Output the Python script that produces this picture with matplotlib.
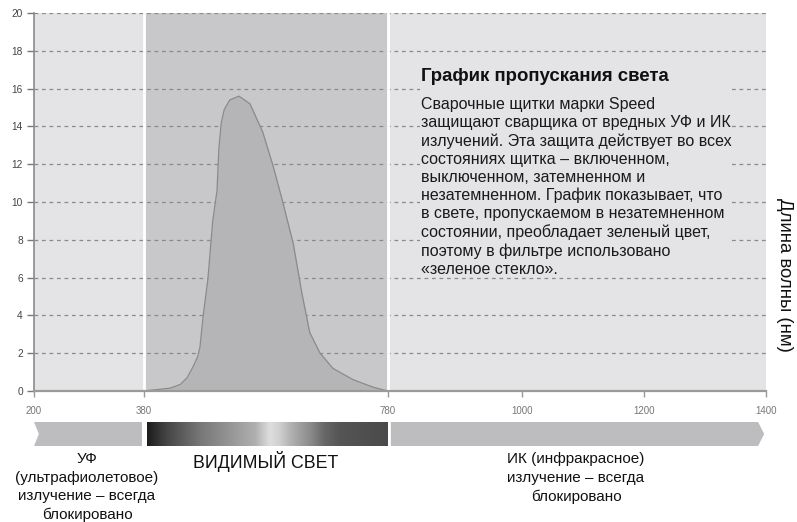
import matplotlib.pyplot as plt
import numpy as np
from matplotlib.colors import LinearSegmentedColormap
from matplotlib.patches import Polygon, Rectangle

plt.rcParams['font.family'] = ['Liberation Sans', 'DejaVu Sans']

# transmission curve
wavelength = [380, 423, 440, 451, 461, 468, 472, 477, 485, 493, 500, 503, 507, 512, 521, 536,
              554, 575, 592, 607, 625, 639, 652, 669, 690, 723, 756, 780]
transmission = [0, 0.15, 0.35, 0.7, 1.3, 1.8, 2.3, 3.9, 5.9, 9.0, 10.6, 12.8, 14.2, 14.9, 15.4, 15.6,
                15.2, 13.7, 11.9, 10.1, 7.8, 5.2, 3.1, 2.0, 1.2, 0.6, 0.2, 0]

x_ticks = [200, 380, 780, 1000, 1200, 1400]
y_ticks = [0, 2, 4, 6, 8, 10, 12, 14, 16, 18, 20]
uv_range = [200, 380]
visible_range = [380, 780]
ir_range = [780, 1400]

title = 'График пропускания света'
body = ('Сварочные щитки марки Speed\n'
        'защищают сварщика от вредных УФ и ИК\n'
        'излучений. Эта защита действует во всех\n'
        'состояниях щитка – включенном,\n'
        'выключенном, затемненном и\n'
        'незатемненном. График показывает, что\n'
        'в свете, пропускаемом в незатемненном\n'
        'состоянии, преобладает зеленый цвет,\n'
        'поэтому в фильтре использовано\n'
        '«зеленое стекло».')
uv_label = 'УФ\n(ультрафиолетовое)\nизлучение – всегда\nблокировано'
vis_label = 'ВИДИМЫЙ СВЕТ'
ir_label = 'ИК (инфракрасное)\nизлучение – всегда\nблокировано'
right_label = 'Длина волны (нм)'

W, H = 797, 522
fig = plt.figure(figsize=(W / 100, H / 100), dpi=100)


def fx(px):
    return px / W


def fy(py):
    return 1 - py / H


ax = fig.add_axes([fx(34), fy(391), fx(766 - 34), (391 - 13) / H])
ax.set_facecolor('#e4e4e6')
ax.set_xlim(x_ticks[0], x_ticks[-1])
ax.set_ylim(0, 20)
ax.axvspan(visible_range[0], visible_range[1], color='#c8c8ca', zorder=0.2, lw=0)
for xv in visible_range:
    ax.axvline(xv, color='white', lw=2, zorder=0.7)

ax.set_axisbelow(True)
ax.yaxis.grid(True, linestyle=(0, (3, 3)), color='#8a8a8a', lw=0.9)

ax.fill_between(wavelength, transmission, color='#b5b5b7', zorder=2, lw=0)
ax.plot(wavelength, transmission, color='#8a8a8a', lw=0.9, zorder=2.1)

# box behind the text that hides the grid
ax.add_patch(Rectangle((832, 7.0), 512, 10.0, facecolor='#e4e4e6', edgecolor='none', zorder=1.5))

for s in ['top', 'right']:
    ax.spines[s].set_visible(False)
ax.spines['left'].set_color('#8a8a8a')
ax.spines['left'].set_linewidth(1.2)
ax.spines['bottom'].set_color('#9a9a9a')
ax.spines['bottom'].set_linewidth(1.6)

ax.set_xticks(x_ticks)
ax.set_xticklabels([str(v) for v in x_ticks])
ax.set_yticks(y_ticks)
ax.set_yticklabels([str(v) for v in y_ticks])
ax.tick_params(axis='y', length=5, width=1, color='#777777', labelsize=7.3,
               labelcolor='#444444', pad=3)
ax.tick_params(axis='x', length=4.5, width=1, color='#999999', labelsize=7,
               labelcolor='#777777', pad=6)

fig.text(fx(421), fy(81), title, fontsize=13.4, fontweight='bold', color='#111111',
         va='baseline', ha='left')
fig.text(fx(421), fy(97), body, fontsize=11.5, color='#1a1a1a', va='top', ha='left',
         linespacing=1.25)

fig.text(fx(784), fy(275), right_label, rotation=270, fontsize=13.4, color='#111111',
         ha='center', va='center')

# spectrum band
bx = fig.add_axes([fx(34), fy(446), fx(732), 24 / H])
bx.set_xlim(x_ticks[0], x_ticks[-1])
bx.set_ylim(0, 1)
bx.axis('off')

bx.add_patch(Polygon([(uv_range[0], 0), (uv_range[1] - 3, 0), (uv_range[1] - 3, 1),
                      (uv_range[0], 1), (uv_range[0] + 8, 0.5)],
                     closed=True, facecolor='#bdbdbf', edgecolor='none'))
bx.add_patch(Polygon([(ir_range[0] + 5, 0), (ir_range[1] - 13, 0), (ir_range[1] - 3, 0.5),
                      (ir_range[1] - 13, 1), (ir_range[0] + 5, 1)],
                     closed=True, facecolor='#bdbdbf', edgecolor='none'))

grey_stops = [(0.0, '#1c1c1c'), (0.08, '#454545'), (0.22, '#777777'), (0.36, '#999999'),
              (0.45, '#b0b0b0'), (0.51, '#dedede'), (0.55, '#d0d0d0'), (0.6, '#b0b0b0'),
              (0.68, '#8a8a8a'), (0.74, '#666666'), (0.8, '#555555'), (1.0, '#4a4a4a')]
cmap = LinearSegmentedColormap.from_list('vis', grey_stops)
bx.imshow(np.linspace(0, 1, 256).reshape(1, -1), cmap=cmap, aspect='auto',
          extent=[visible_range[0] + 5, visible_range[1] - 1, 0, 1])
bx.set_xlim(x_ticks[0], x_ticks[-1])
bx.set_ylim(0, 1)

fig.text(fx(87), fy(452), uv_label, fontsize=11, color='#111111', ha='center', va='top',
         multialignment='center', linespacing=1.42)
fig.text(fx(266), fy(451), vis_label, fontsize=12.8, color='#111111', ha='center', va='top')
fig.text(fx(576), fy(452), ir_label, fontsize=11, color='#111111', ha='center', va='top',
         multialignment='center', linespacing=1.42)

fig.savefig('out.png', dpi=100)
